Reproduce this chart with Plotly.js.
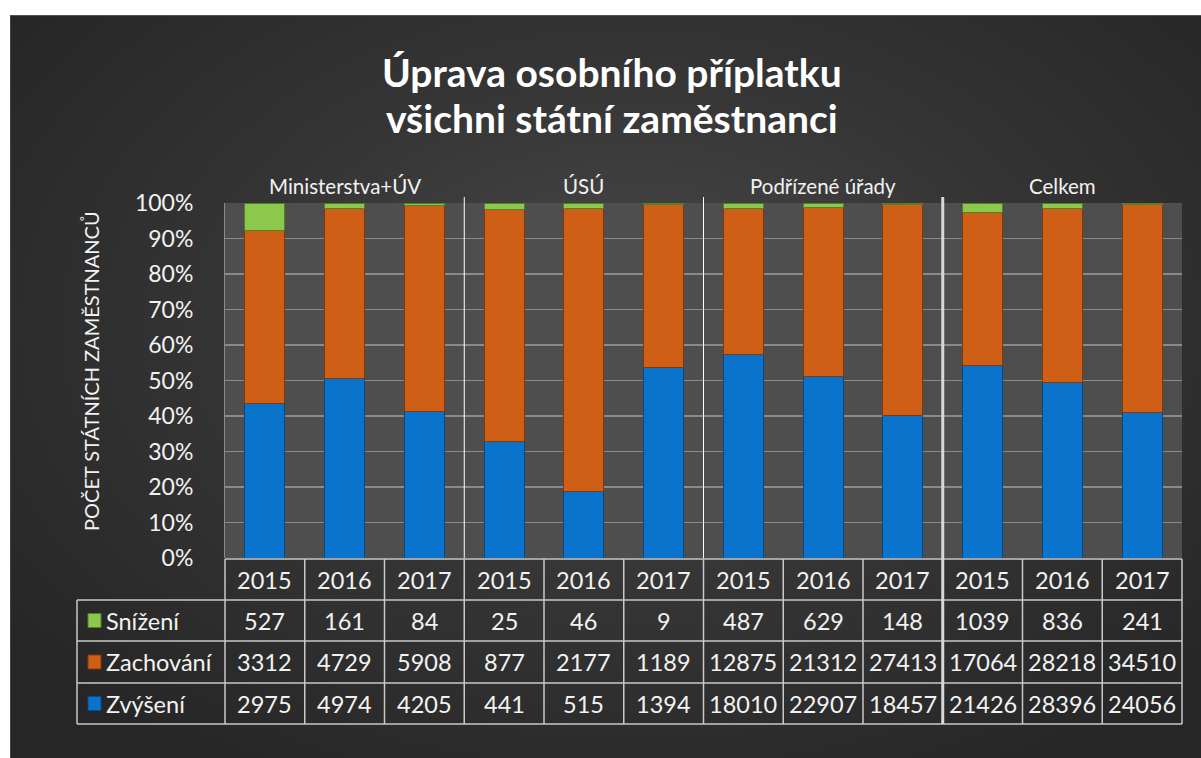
<!DOCTYPE html>
<html>
<head>
<meta charset="utf-8">
<script src="https://cdn.plot.ly/plotly-3.0.1.min.js"></script>
<style>
  html, body { margin:0; padding:0; background:#ffffff; }
  #bg { position:absolute; left:10px; top:15px; width:1191px; height:743px;
        background: radial-gradient(ellipse 65% 70% at 52% 42%, #4a4a4a 0%, #353535 50%, #262626 100%);
        border-top:1px solid #555; border-left:1px solid #444; }
  #chart { position:absolute; left:0; top:0; width:1201px; height:758px; }
</style>
</head>
<body>
<div id="bg"></div>
<div id="chart"></div>
<script>
// ---- data ----
const groups = ['Ministerstva+ÚV', 'ÚSÚ', 'Podřízené úřady', 'Celkem'];
const years = ['2015', '2016', '2017'];
const seriesNames = ['Snížení', 'Zachování', 'Zvýšení'];
const snizeni   = [527, 161, 84, 25, 46, 9, 487, 629, 148, 1039, 836, 241];
const zachovani = [3312, 4729, 5908, 877, 2177, 1189, 12875, 21312, 27413, 17064, 28218, 34510];
const zvyseni   = [2975, 4974, 4205, 441, 515, 1394, 18010, 22907, 18457, 21426, 28396, 24056];

// ---- styling ----
const colBlue = '#0a74cc', colOrange = '#cf5f16', colGreen = '#8cc84b';
const lineBlue = '#064a85', lineOrange = '#7f3a0c', lineGreen = '#557f27';
const txt = '#f2f2f2';
const FONT = 'Lato, "Open Sans", sans-serif';
const TBL = 23.5;

const cats = [];
groups.forEach(g => years.forEach(y => cats.push(g + ' ' + y)));
const n = cats.length;

const traces = [
  {type:'bar', name:seriesNames[2], x:cats, y:zvyseni, marker:{color:colBlue, line:{color:lineBlue, width:1}}},
  {type:'bar', name:seriesNames[1], x:cats, y:zachovani, marker:{color:colOrange, line:{color:lineOrange, width:1}}},
  {type:'bar', name:seriesNames[0], x:cats, y:snizeni, marker:{color:colGreen, line:{color:lineGreen, width:1}}}
];

// plot geometry (pixels) for paper conversions
const W = 1201, H = 758;
const mL = 225, mR = 19, mT = 203, mB = 200;
const pw = W - mL - mR, ph = H - mT - mB;
const py = px => (H - mB - px) / ph;      // pixel y -> paper y
const pxx = px => (px - mL) / pw;         // pixel x -> paper x
const colX = i => i / n;                  // column boundary in paper

const shapes = [];
const annotations = [];
const gridCol = '#c9c9c9';

const rowTops = [559, 600, 641, 683, 724];
const legendLeft = 77;

shapes.push({type:'line', xref:'paper', yref:'paper', x0:0, x1:1, y0:py(rowTops[0]), y1:py(rowTops[0]), line:{color:gridCol, width:1.5}});
for (let r = 1; r < rowTops.length; r++) {
  shapes.push({type:'line', xref:'paper', yref:'paper', x0:pxx(legendLeft), x1:1, y0:py(rowTops[r]), y1:py(rowTops[r]), line:{color:gridCol, width:1.5}});
}
shapes.push({type:'line', xref:'paper', yref:'paper', x0:pxx(legendLeft), x1:pxx(legendLeft), y0:py(rowTops[1]), y1:py(rowTops[4]), line:{color:gridCol, width:1.5}});
for (let k = 0; k <= n; k++) {
  if (k === 9) continue;
  shapes.push({type:'line', xref:'paper', yref:'paper', x0:colX(k), x1:colX(k), y0:py(rowTops[0]), y1:py(rowTops[4]), line:{color:gridCol, width:1.5}});
}
[3, 6].forEach(k => {
  shapes.push({type:'line', xref:'paper', yref:'paper', x0:colX(k), x1:colX(k), y0:py(197), y1:0, line:{color:'#ffffff', width:1}});
});
shapes.push({type:'line', xref:'paper', yref:'paper', x0:colX(9), x1:colX(9), y0:py(197), y1:py(rowTops[4]), line:{color:'#d8d8d8', width:3}});

for (let i = 0; i < n; i++) {
  annotations.push({xref:'paper', yref:'paper', x:(i + 0.5) / n, y:py((rowTops[0]+rowTops[1])/2), text:years[i % 3], showarrow:false, font:{family:FONT, size:TBL, color:txt}, xanchor:'center', yanchor:'middle'});
}
const rows = [snizeni, zachovani, zvyseni];
const rowColors = [[colGreen, lineGreen], [colOrange, lineOrange], [colBlue, lineBlue]];
rows.forEach((arr, r) => {
  const cy = (rowTops[r+1] + rowTops[r+2]) / 2;
  const yc = py(cy);
  arr.forEach((v, i) => {
    annotations.push({xref:'paper', yref:'paper', x:(i + 0.5) / n, y:yc, text:String(v), showarrow:false, font:{family:FONT, size:TBL, color:txt}, xanchor:'center', yanchor:'middle'});
  });
  annotations.push({xref:'paper', yref:'paper', x:pxx(104), y:yc, text:seriesNames[r], showarrow:false, font:{family:FONT, size:TBL, color:txt}, xanchor:'left', yanchor:'middle'});
  shapes.push({type:'rect', xref:'paper', yref:'paper', x0:pxx(88), x1:pxx(101), y0:py(cy - 7), y1:py(cy + 7), fillcolor:rowColors[r][0], line:{color:rowColors[r][1], width:1}});
});
groups.forEach((g, gi) => {
  annotations.push({xref:'paper', yref:'paper', x:(gi * 3 + 1.5) / n, y:py(186), text:g, showarrow:false, font:{family:FONT, size:20.5, color:txt}, xanchor:'center', yanchor:'middle'});
});
annotations.push({xref:'paper', yref:'paper', x:pxx(91), y:py(371), text:'POČET STÁTNÍCH ZAMĚSTNANCŮ', textangle:-90, showarrow:false, font:{family:FONT, size:20, color:txt}, xanchor:'center', yanchor:'middle'});
annotations.push({xref:'paper', yref:'paper', x:pxx(612), y:py(72), text:'<b>Úprava osobního příplatku</b>', showarrow:false, font:{family:FONT, size:39, color:'#ffffff'}, xanchor:'center', yanchor:'middle'});
annotations.push({xref:'paper', yref:'paper', x:pxx(612), y:py(118), text:'<b>všichni státní zaměstnanci</b>', showarrow:false, font:{family:FONT, size:39, color:'#ffffff'}, xanchor:'center', yanchor:'middle'});

const layout = {
  width:W, height:H,
  margin:{l:mL, r:mR, t:mT, b:mB, pad:0},
  paper_bgcolor:'rgba(0,0,0,0)',
  plot_bgcolor:'#4e4e4e',
  barmode:'stack', barnorm:'percent', bargap:0.5,
  showlegend:false,
  xaxis:{type:'category', categoryorder:'array', categoryarray:cats, showticklabels:false, showgrid:false, zeroline:false, showline:false, ticks:'', range:[-0.5, n - 0.5], fixedrange:true},
  yaxis:{range:[0, 100], dtick:10, ticksuffix:'%', showgrid:true, gridcolor:'#8a8a8a', gridwidth:1.2, zeroline:false, showline:true, linecolor:'#8a8a8a', linewidth:1, ticks:'', ticklabelstandoff:26, tickfont:{family:FONT, size:23, color:txt}, fixedrange:true},
  shapes:shapes,
  annotations:annotations
};

Plotly.newPlot('chart', traces, layout, {displayModeBar:false, staticPlot:true});
</script>
</body>
</html>
